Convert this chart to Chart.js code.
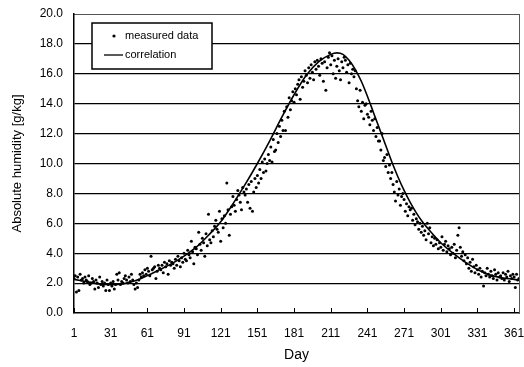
<!DOCTYPE html>
<html>
<head>
<meta charset="utf-8">
<script src="https://cdn.jsdelivr.net/npm/chart.js@4.4.0/dist/chart.umd.min.js"></script>
<style>
  html, body { margin: 0; padding: 0; background: #fff; }
  #wrap { width: 524px; height: 367px; position: relative; }
</style>
</head>
<body>
<div id="wrap"><canvas id="myChart"></canvas></div>
<script>
// x axis tick labels (day of year)
const dayTicks = [1, 31, 61, 91, 121, 151, 181, 211, 241, 271, 301, 331, 361];

// measured absolute humidity, one value per day (day 1 .. 365)
const measured = [
  2.3, 2.5, 1.4, 2.4, 1.5, 2.6, 2.2, 2.3, 2.0, 2.4,
  2.2, 2.1, 2.5, 1.9, 2.0, 2.3, 2.1, 1.6, 2.2, 2.0,
  1.7, 2.4, 1.9, 2.1, 1.8, 2.0, 1.5, 2.2, 1.9, 1.5,
  2.0, 1.8, 2.1, 1.6, 1.9, 2.6, 2.2, 2.7, 1.9, 2.1,
  2.0, 2.3, 2.5, 2.2, 2.0, 2.4, 2.1, 2.6, 2.2, 1.9,
  1.6, 2.0, 1.7, 2.2, 2.6, 2.4, 2.7, 2.5, 2.9, 2.6,
  3.0, 2.8, 2.5, 3.8, 2.9, 3.0, 3.1, 2.3, 2.8, 3.2,
  3.0, 2.9, 3.2, 2.7, 3.4, 3.1, 3.3, 2.6, 3.5, 3.2,
  3.4, 3.3, 3.0, 3.6, 3.2, 3.8, 3.5, 3.1, 3.7, 3.4,
  4.0, 3.6, 3.5, 4.2, 3.9, 3.7, 4.8, 4.1, 3.3, 4.4,
  4.3, 3.9, 5.4, 4.6, 4.2, 5.0, 4.7, 3.8, 5.3, 4.5,
  6.6, 4.9, 4.7, 5.5, 5.1, 5.8, 6.2, 5.6, 5.4, 6.8,
  4.8, 6.3, 5.7, 6.5, 6.0, 8.7, 6.9, 5.2, 6.6, 7.1,
  7.8, 7.2, 6.8, 7.6, 8.2, 7.9, 7.4, 6.9, 8.4, 8.1,
  7.9, 8.3, 7.4, 8.6, 7.0, 8.8, 6.8, 8.1, 9.0, 8.4,
  9.2, 8.7, 9.6, 9.0, 10.1, 9.4, 10.3, 9.5, 10.0, 10.6,
  10.2, 11.1, 10.1, 11.6, 10.8, 10.9, 12.0, 11.4, 12.5, 11.8,
  12.9, 12.2, 13.5, 12.2, 13.8, 13.1, 14.4, 13.6, 14.2, 14.8,
  14.1, 15.0, 14.6, 15.3, 15.6, 14.3, 15.8, 15.1, 15.5, 16.2,
  15.9, 15.4, 16.4, 15.7, 16.6, 16.1, 15.6, 16.8, 16.3, 16.9,
  16.5, 15.9, 17.0, 16.7, 15.5, 16.8, 14.9, 16.4, 17.1, 17.4,
  16.6, 17.2, 16.0, 16.9, 15.7, 16.5, 17.0, 16.2, 15.6, 16.8,
  16.4, 17.1, 16.9, 16.1, 16.6, 15.4, 16.7, 16.0, 16.3, 15.8,
  16.2, 15.0, 14.2, 13.8, 14.9, 13.5, 14.1, 13.0, 13.9, 14.0,
  13.3, 13.1, 12.6, 13.5, 12.9, 12.2, 13.0, 11.8, 12.4, 11.5,
  11.5, 10.9, 12.0, 10.2, 10.4, 9.8, 10.6, 9.4, 9.9, 9.0,
  9.4, 8.6, 8.1, 7.5, 8.8, 7.9, 8.3, 7.2, 7.8, 8.0,
  7.6, 6.8, 7.3, 6.5, 7.1, 6.9, 7.0, 6.2, 6.6, 5.9,
  6.3, 6.1, 5.6, 6.0, 5.4, 5.8, 5.2, 5.5, 4.9, 6.0,
  5.3, 5.7, 4.7, 5.1, 4.5, 5.0, 4.6, 4.9, 4.3, 4.7,
  4.4, 5.1, 4.2, 4.6, 4.8, 4.1, 4.5, 4.3, 3.9, 4.4,
  4.0, 4.6, 3.7, 4.2, 5.2, 5.7, 4.4, 3.8, 4.1, 3.5,
  3.9, 3.3, 3.7, 3.0, 3.4, 2.8, 3.6, 3.1, 2.7, 3.2,
  2.9, 2.6, 3.0, 2.4, 2.8, 1.8, 2.7, 2.5, 3.0, 2.6,
  2.4, 2.8, 2.5, 2.3, 2.9, 2.6, 2.2, 2.7, 2.4, 2.5,
  2.3, 2.7, 2.2, 2.6, 2.4, 2.8, 2.1, 2.5, 2.3, 2.6,
  2.4, 1.7, 2.6, 2.2, 2.3
];

// correlation curve, sampled at these days
const curveDays = [1, 11, 21, 31, 41, 51, 61, 71, 81, 91, 101, 111, 121, 131, 141, 151, 161, 171, 181, 191,
  201, 211, 216, 221, 226, 231, 236, 241, 246, 251, 256, 261, 266, 271, 276, 281, 286, 291, 301, 311, 321,
  331, 341, 351, 361, 365];
const curveValues = [2.25, 2.1, 1.95, 1.9, 1.95, 2.15, 2.5, 2.9, 3.3, 3.8, 4.4, 5.2, 6.1, 7.3, 8.6, 10.0, 11.5, 13.1, 14.6, 15.9,
  16.8, 17.3, 17.4, 17.3, 16.9, 16.3, 15.5, 14.5, 13.4, 12.3, 11.2, 10.1, 9.1, 8.2, 7.4, 6.7, 6.1, 5.6, 4.7, 4.0, 3.4,
  2.9, 2.55, 2.35, 2.25, 2.2];

const FONT = "'Liberation Sans', Arial, sans-serif";

// small tick marks on the x axis pointing into the plot
const innerTicks = {
  id: 'innerTicks',
  afterDatasetsDraw(chart) {
    const ctx = chart.ctx;
    const x = chart.scales.x;
    const bottom = chart.chartArea.bottom;
    ctx.save();
    ctx.strokeStyle = '#000';
    ctx.lineWidth = 1;
    dayTicks.forEach(d => {
      const px = Math.round(x.getPixelForValue(d)) + 0.5;
      ctx.beginPath();
      ctx.moveTo(px, bottom);
      ctx.lineTo(px, bottom - 5);
      ctx.stroke();
    });
    ctx.restore();
  }
};

// boxed legend inside the plot area
const boxLegend = {
  id: 'boxLegend',
  afterDraw(chart) {
    const ctx = chart.ctx;
    const area = chart.chartArea;
    const bx = area.left + 18, by = area.top + 9, bw = 120, bh = 46;
    ctx.save();
    ctx.fillStyle = '#fff';
    ctx.fillRect(bx, by, bw, bh);
    ctx.strokeStyle = '#000';
    ctx.lineWidth = 1.5;
    ctx.strokeRect(bx, by, bw, bh);
    ctx.fillStyle = '#000';
    ctx.font = '11px ' + FONT;
    ctx.textBaseline = 'middle';
    ctx.beginPath();
    ctx.arc(bx + 22, by + 13, 1.6, 0, Math.PI * 2);
    ctx.fill();
    ctx.fillText(chart.data.datasets[0].label, bx + 33, by + 13);
    ctx.lineWidth = 1.3;
    ctx.beginPath();
    ctx.moveTo(bx + 12, by + 32);
    ctx.lineTo(bx + 31, by + 32);
    ctx.stroke();
    ctx.fillText(chart.data.datasets[1].label, bx + 33, by + 32);
    ctx.restore();
  }
};

const scatterPoints = measured.map((v, i) => ({ x: i + 1, y: v }));
const curvePoints = curveDays.map((d, i) => ({ x: d, y: curveValues[i] }));

const ctx = document.getElementById('myChart').getContext('2d');
const myChart = new Chart(ctx, {
  type: 'scatter',
  data: {
    datasets: [{
      label: 'measured data',
      data: scatterPoints,
      pointRadius: 1.5,
      pointBackgroundColor: '#000',
      pointBorderWidth: 0,
      showLine: false,
      order: 2
    }, {
      label: 'correlation',
      data: curvePoints,
      showLine: true,
      pointRadius: 0,
      borderColor: '#000',
      borderWidth: 1.6,
      cubicInterpolationMode: 'monotone',
      order: 1
    }]
  },
  options: {
    responsive: true,
    maintainAspectRatio: false,
    animation: false,
    layout: { padding: 0 },
    plugins: { legend: { display: false }, tooltip: { enabled: false } },
    scales: {
      x: {
        type: 'linear',
        min: 1,
        max: 365,
        afterBuildTicks: s => { s.ticks = dayTicks.map(v => ({ value: v })); },
        afterFit: s => { s.height = 54; s.paddingRight = 0; s.paddingLeft = 0; },
        grid: { display: false },
        border: { color: '#000', width: 1.5 },
        ticks: { color: '#000', font: { family: FONT, size: 12 }, padding: 5, maxRotation: 0 },
        title: { display: true, text: 'Day', color: '#000', font: { family: FONT, size: 14 }, padding: { top: 2, bottom: 3 } }
      },
      xTop: {
        type: 'linear',
        position: 'top',
        min: 1,
        max: 365,
        afterFit: s => { s.height = 14; s.paddingRight = 0; s.paddingLeft = 0; },
        grid: { display: false },
        ticks: { display: false },
        border: { color: '#555', width: 1, dash: [2, 2] }
      },
      y: {
        min: 0,
        max: 20,
        afterFit: s => { s.width = 74; s.paddingTop = 0; s.paddingBottom = 0; },
        grid: {
          color: ctx => (ctx.tick.value === 20 || ctx.tick.value === 0) ? 'rgba(0,0,0,0)' : '#000',
          lineWidth: 1.2,
          drawTicks: false
        },
        border: { color: '#000', width: 1.5 },
        ticks: {
          stepSize: 2,
          color: '#000',
          padding: 11,
          font: { family: FONT, size: 12 },
          callback: v => v.toFixed(1)
        },
        title: { display: true, text: 'Absolute humidity [g/kg]', color: '#000', font: { family: FONT, size: 13 }, padding: { top: 10, bottom: 4 } }
      },
      yRight: {
        position: 'right',
        min: 0,
        max: 20,
        afterFit: s => { s.width = 5; s.paddingTop = 0; s.paddingBottom = 0; },
        grid: { display: false },
        ticks: { display: false },
        border: { color: '#555', width: 1, dash: [2, 2] }
      }
    }
  },
  plugins: [innerTicks, boxLegend]
});
</script>
</body>
</html>
